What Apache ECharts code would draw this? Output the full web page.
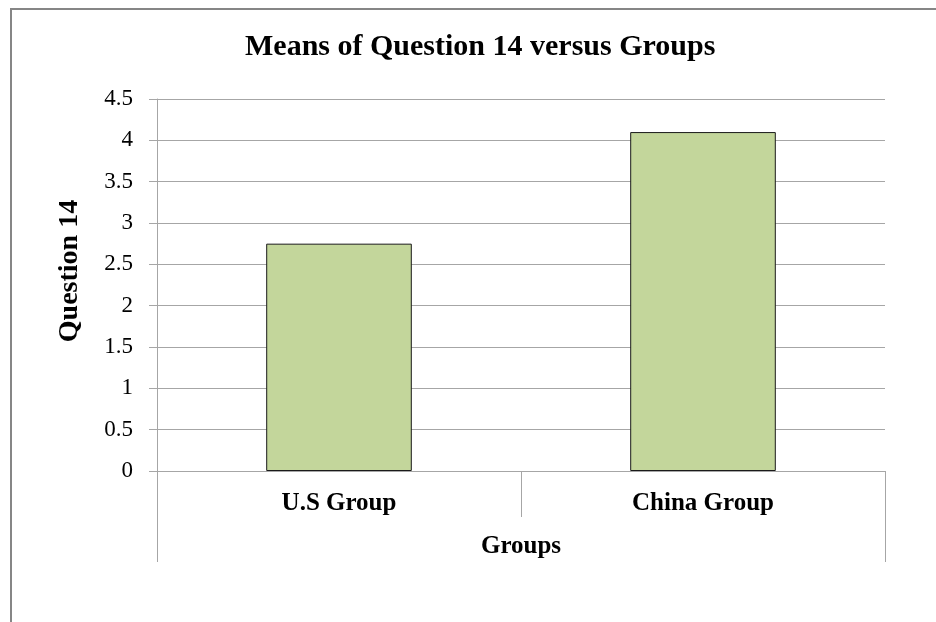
<!DOCTYPE html>
<html>
<head>
<meta charset="utf-8">
<script src="https://cdn.jsdelivr.net/npm/echarts@6/dist/echarts.min.js"></script>
<style>
  html, body { margin: 0; padding: 0; background: #fff; }
  #main { width: 936px; height: 622px; }
</style>
</head>
<body>
<div id="main"></div>
<script>
// data
var groups = ['U.S Group', 'China Group'];
var means = [2.75, 4.1];
var yTicks = { min: 0, max: 4.5, step: 0.5 };

var serif = '"Liberation Serif", "Times New Roman", serif';
var gridGrey = '#a6a6a6';

var myChart = echarts.init(document.getElementById('main'));

var option = {
  backgroundColor: '#fff',
  animation: false,
  title: {
    text: 'Means of Question 14 versus Groups',
    left: 240,
    top: 27,
    textStyle: {
      fontFamily: serif,
      fontSize: 30,
      fontWeight: 'bold',
      color: '#000'
    }
  },
  // outer chart frame (runs past the right and bottom edge)
  graphic: [{
    type: 'rect',
    shape: { x: 11, y: 9, width: 1000, height: 1000 },
    style: { fill: 'none', stroke: '#868686', lineWidth: 2 },
    silent: true
  }],
  grid: {
    left: 157,
    right: 51,
    top: 99,
    bottom: 151
  },
  xAxis: [{
    type: 'category',
    data: groups,
    boundaryGap: true,
    name: 'Groups',
    nameLocation: 'middle',
    nameGap: 63,
    nameTextStyle: {
      fontFamily: serif,
      fontSize: 25,
      fontWeight: 'bold',
      color: '#000'
    },
    axisLine: { lineStyle: { color: gridGrey, width: 1 } },
    axisTick: {
      show: true,
      interval: 0,
      length: 46,
      lineStyle: { color: gridGrey, width: 1 }
    },
    axisLabel: {
      interval: 0,
      margin: 20,
      fontFamily: serif,
      fontSize: 25,
      fontWeight: 'bold',
      color: '#000'
    }
  }, {
    // outer frame of the category table: one cell spanning both groups
    type: 'category',
    position: 'bottom',
    data: [''],
    boundaryGap: true,
    axisLine: { show: false },
    axisTick: {
      show: true,
      interval: 0,
      length: 91,
      lineStyle: { color: gridGrey, width: 1 }
    },
    axisLabel: { show: false },
    splitLine: { show: false }
  }],
  yAxis: {
    type: 'value',
    min: yTicks.min,
    max: yTicks.max,
    interval: yTicks.step,
    name: 'Question 14',
    nameLocation: 'middle',
    nameGap: 73,
    nameRotate: 90,
    nameTextStyle: {
      fontFamily: serif,
      fontSize: 28,
      fontWeight: 'bold',
      color: '#000',
      padding: [0, 0, 0, 28]
    },
    axisLine: { show: true, lineStyle: { color: gridGrey, width: 1 } },
    axisTick: {
      show: true,
      length: 8,
      lineStyle: { color: gridGrey, width: 1 }
    },
    axisLabel: {
      margin: 24,
      fontFamily: serif,
      fontSize: 23,
      color: '#000'
    },
    splitLine: { show: true, lineStyle: { color: gridGrey, width: 1 } }
  },
  series: [{
    name: 'Question 14',
    type: 'bar',
    xAxisIndex: 0,
    data: means,
    barWidth: '40%',
    itemStyle: {
      color: '#c3d69b',
      borderColor: '#1a1a1a',
      borderWidth: 1
    }
  }]
};

myChart.setOption(option);
window.onresize = myChart.resize;
</script>
</body>
</html>
